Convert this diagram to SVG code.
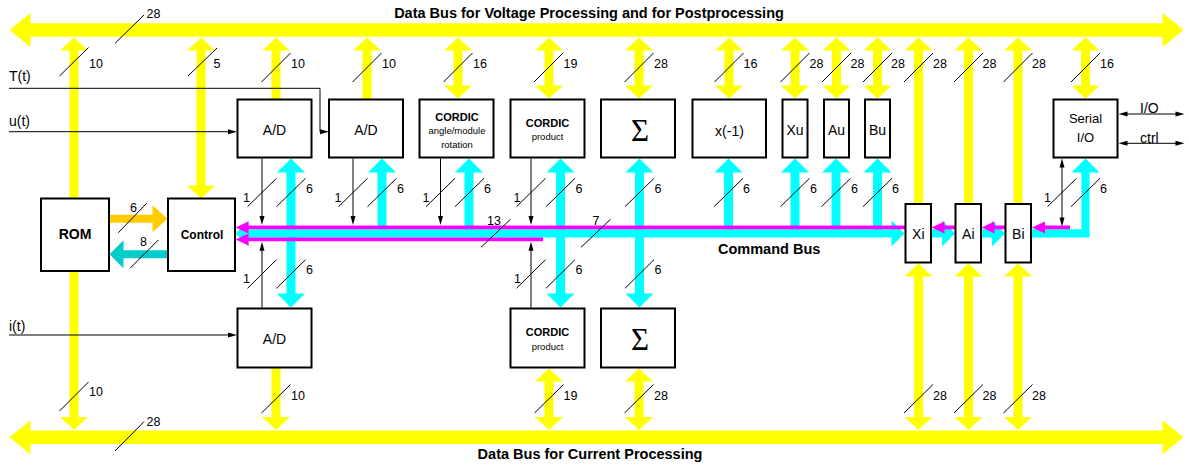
<svg xmlns="http://www.w3.org/2000/svg" width="1189" height="465" viewBox="0 0 1189 465">
<style>
text{font-family:"Liberation Sans",Arial,sans-serif;fill:#000}
text.sig{font-family:"Liberation Serif","Times New Roman",serif;font-size:31px;text-anchor:middle}
.n{font-size:12.5px}
.b{font-weight:bold;font-size:14.5px}
.lbl{font-size:14px;text-anchor:middle}
.ttl{font-weight:bold;font-size:11px;text-anchor:middle}
.sub{font-size:9.5px;text-anchor:middle}
.box{fill:#fff;stroke:#000;stroke-width:2}
.y{stroke:#ff0;stroke-width:9;fill:none}
.c{stroke:#0ff;stroke-width:9;fill:none}
.m{stroke:#f0f;stroke-width:3.8;fill:none}
.k{stroke:#000;stroke-width:1;fill:none}
.s{stroke:#000;stroke-width:1}
</style>
<defs>
<marker id="ybus" markerUnits="userSpaceOnUse" markerWidth="21" markerHeight="34" viewBox="0 0 21 34" refX="0.5" refY="17" orient="auto-start-reverse" overflow="visible"><path d="M0,0L21,17L0,34z" fill="#ff0"/></marker>
<marker id="yh" markerUnits="userSpaceOnUse" markerWidth="13" markerHeight="28" viewBox="0 0 13 28" refX="0.5" refY="14" orient="auto-start-reverse" overflow="visible"><path d="M0,0L13,14L0,28z" fill="#ff0"/></marker>
<marker id="ch" markerUnits="userSpaceOnUse" markerWidth="14" markerHeight="28" viewBox="0 0 14 28" refX="0.5" refY="14" orient="auto-start-reverse" overflow="visible"><path d="M0,0L14,14L0,28z" fill="#0ff"/></marker>
<marker id="cbh" markerUnits="userSpaceOnUse" markerWidth="13" markerHeight="26" viewBox="0 0 13 26" refX="0.5" refY="13" orient="auto-start-reverse" overflow="visible"><path d="M0,0L13,13L0,26z" fill="#0ff"/></marker>
<marker id="mh" markerUnits="userSpaceOnUse" markerWidth="13" markerHeight="12" viewBox="0 0 13 12" refX="0.5" refY="6" orient="auto-start-reverse" overflow="visible"><path d="M0,0L13,6L0,12z" fill="#f0f"/></marker>
<marker id="gh" markerUnits="userSpaceOnUse" markerWidth="15" markerHeight="27" viewBox="0 0 15 27" refX="0.5" refY="13.5" orient="auto" overflow="visible"><path d="M0,0L15,13.5L0,27z" fill="#fc0"/></marker>
<marker id="th" markerUnits="userSpaceOnUse" markerWidth="14" markerHeight="28" viewBox="0 0 14 28" refX="0.5" refY="14" orient="auto" overflow="visible"><path d="M0,0L14,14L0,28z" fill="#0cc"/></marker>
<marker id="bh" markerUnits="userSpaceOnUse" markerWidth="9" markerHeight="5" viewBox="0 0 9 5" refX="0.5" refY="2.5" orient="auto-start-reverse" overflow="visible"><path d="M0,0L9,2.5L0,5z" fill="#000"/></marker>
</defs>

<g id="connectors">
  <!-- data buses -->
  <line x1="30" y1="30" x2="1163" y2="30" stroke="#ff0" stroke-width="13.5" marker-start="url(#ybus)" marker-end="url(#ybus)"/>
  <line x1="30" y1="437.3" x2="1163" y2="437.3" stroke="#ff0" stroke-width="13.5" marker-start="url(#ybus)" marker-end="url(#ybus)"/>
  <!-- yellow verticals top -->
  <line class="y" x1="74" y1="198" x2="74" y2="50" marker-end="url(#yh)"/>
  <line class="y" x1="201" y1="50" x2="201" y2="186" marker-start="url(#yh)" marker-end="url(#yh)"/>
  <line class="y" x1="276" y1="99" x2="276" y2="50" marker-end="url(#yh)"/>
  <line class="y" x1="367" y1="99" x2="367" y2="50" marker-end="url(#yh)"/>
  <line class="y" x1="458" y1="50" x2="458" y2="86" marker-start="url(#yh)" marker-end="url(#yh)"/>
  <line class="y" x1="549" y1="50" x2="549" y2="86" marker-start="url(#yh)" marker-end="url(#yh)"/>
  <line class="y" x1="639" y1="50" x2="639" y2="86" marker-start="url(#yh)" marker-end="url(#yh)"/>
  <line class="y" x1="729" y1="50" x2="729" y2="86" marker-start="url(#yh)" marker-end="url(#yh)"/>
  <line class="y" x1="795" y1="50" x2="795" y2="86" marker-start="url(#yh)" marker-end="url(#yh)"/>
  <line class="y" x1="836.5" y1="50" x2="836.5" y2="86" marker-start="url(#yh)" marker-end="url(#yh)"/>
  <line class="y" x1="877.5" y1="50" x2="877.5" y2="86" marker-start="url(#yh)" marker-end="url(#yh)"/>
  <line class="y" x1="918.5" y1="204" x2="918.5" y2="50" marker-end="url(#yh)"/>
  <line class="y" x1="968.5" y1="204" x2="968.5" y2="50" marker-end="url(#yh)"/>
  <line class="y" x1="1018" y1="204" x2="1018" y2="50" marker-end="url(#yh)"/>
  <line class="y" x1="1085.5" y1="50" x2="1085.5" y2="86" marker-start="url(#yh)" marker-end="url(#yh)"/>
  <!-- yellow verticals bottom -->
  <line class="y" x1="74" y1="271" x2="74" y2="417.5" marker-end="url(#yh)"/>
  <line class="y" x1="276" y1="368" x2="276" y2="417.5" marker-end="url(#yh)"/>
  <line class="y" x1="549" y1="381" x2="549" y2="417.5" marker-start="url(#yh)" marker-end="url(#yh)"/>
  <line class="y" x1="639" y1="381" x2="639" y2="417.5" marker-start="url(#yh)" marker-end="url(#yh)"/>
  <line class="y" x1="918.5" y1="276" x2="918.5" y2="417.5" marker-start="url(#yh)" marker-end="url(#yh)"/>
  <line class="y" x1="968.5" y1="276" x2="968.5" y2="417.5" marker-start="url(#yh)" marker-end="url(#yh)"/>
  <line class="y" x1="1018" y1="276" x2="1018" y2="417.5" marker-start="url(#yh)" marker-end="url(#yh)"/>
  <!-- ROM / Control -->
  <line x1="109.5" y1="218.7" x2="153" y2="218.7" stroke="#fc0" stroke-width="8" marker-end="url(#gh)"/>
  <line x1="168" y1="254.3" x2="123" y2="254.3" stroke="#0cc" stroke-width="8" marker-end="url(#th)"/>
  <!-- cyan verticals -->
  <line class="c" x1="291" y1="172" x2="291" y2="294" marker-start="url(#ch)" marker-end="url(#ch)"/>
  <line class="c" x1="382" y1="230" x2="382" y2="172" marker-end="url(#ch)"/>
  <line class="c" x1="469" y1="230" x2="469" y2="172" marker-end="url(#ch)"/>
  <line class="c" x1="560.5" y1="172" x2="560.5" y2="294" marker-start="url(#ch)" marker-end="url(#ch)"/>
  <line class="c" x1="639.5" y1="172" x2="639.5" y2="294" marker-start="url(#ch)" marker-end="url(#ch)"/>
  <line class="c" x1="728.5" y1="230" x2="728.5" y2="172" marker-end="url(#ch)"/>
  <line class="c" x1="795" y1="230" x2="795" y2="172" marker-end="url(#ch)"/>
  <line class="c" x1="836" y1="230" x2="836" y2="172" marker-end="url(#ch)"/>
  <line class="c" x1="877.5" y1="230" x2="877.5" y2="172" marker-end="url(#ch)"/>
  <!-- command bus cyan -->
  <line x1="248" y1="233.4" x2="892" y2="233.4" stroke="#0ff" stroke-width="8.2" marker-start="url(#cbh)" marker-end="url(#cbh)"/>
  <line x1="931" y1="233.4" x2="942.5" y2="233.4" stroke="#0ff" stroke-width="8.2" marker-end="url(#cbh)"/>
  <line x1="981" y1="233.4" x2="992.5" y2="233.4" stroke="#0ff" stroke-width="8.2" marker-end="url(#cbh)"/>
  <path d="M1031,233.4H1085.5V172" stroke="#0ff" stroke-width="8.2" fill="none" stroke-linejoin="miter" marker-end="url(#ch)"/>
  <!-- command bus magenta -->
  <line class="m" x1="905.5" y1="227.4" x2="248" y2="227.4" marker-end="url(#mh)"/>
  <line class="m" x1="543" y1="239.4" x2="248" y2="239.4" marker-end="url(#mh)"/>
  <line class="m" x1="955.5" y1="227.4" x2="944" y2="227.4" marker-end="url(#mh)"/>
  <line class="m" x1="1005.5" y1="227.4" x2="994" y2="227.4" marker-end="url(#mh)"/>
  <line class="m" x1="1070" y1="227.4" x2="1044.5" y2="227.4" marker-end="url(#mh)"/>
  <!-- black single-bit lines -->
  <line class="k" x1="262" y1="158.5" x2="262" y2="216.5" marker-end="url(#bh)"/>
  <line class="k" x1="353" y1="158.5" x2="353" y2="216.5" marker-end="url(#bh)"/>
  <line class="k" x1="440.5" y1="158.5" x2="440.5" y2="216.5" marker-end="url(#bh)"/>
  <line class="k" x1="531" y1="158.5" x2="531" y2="216.5" marker-end="url(#bh)"/>
  <line class="k" x1="262" y1="308.5" x2="262" y2="250.3" marker-end="url(#bh)"/>
  <line class="k" x1="531" y1="308.5" x2="531" y2="250.3" marker-end="url(#bh)"/>
  <line class="k" x1="1062" y1="167" x2="1062" y2="218" marker-start="url(#bh)" marker-end="url(#bh)"/>
  <!-- inputs / outputs -->
  <path class="k" d="M9,88.3H320V131.7H320.5" marker-end="url(#bh)"/>
  <path class="k" d="M9,131.7H228.5" marker-end="url(#bh)"/>
  <path class="k" d="M9,335H228.5" marker-end="url(#bh)"/>
  <line class="k" x1="1127" y1="114" x2="1176" y2="114" marker-start="url(#bh)" marker-end="url(#bh)"/>
  <line class="k" x1="1127" y1="143.3" x2="1176" y2="143.3" marker-start="url(#bh)" marker-end="url(#bh)"/>
</g>

<g id="bus-labels">
  <text class="b" x="589" y="17.5" text-anchor="middle">Data Bus for Voltage Processing and for Postprocessing</text>
  <text class="b" x="590" y="459" text-anchor="middle">Data Bus for Current Processing</text>
  <text class="b" x="718" y="254">Command Bus</text>
  <text x="9" y="80.5" font-size="14">T(t)</text>
  <text x="9" y="125.5" font-size="14">u(t)</text>
  <text x="9" y="331" font-size="14">i(t)</text>
  <text x="1140" y="113" font-size="14">I/O</text>
  <text x="1140" y="142.5" font-size="14">ctrl</text>
</g>

<g id="width-marks">
  <g class="s">
    <line x1="115" y1="43.3" x2="144" y2="15"/>
    <line x1="115" y1="451" x2="144" y2="421.7"/>
    <line x1="59.5" y1="76" x2="88.5" y2="47.5"/>
    <line x1="188" y1="76" x2="217" y2="48"/>
    <line x1="261.5" y1="82" x2="290.5" y2="53"/>
    <line x1="352.5" y1="82" x2="381.5" y2="53"/>
    <line x1="443.5" y1="82" x2="472.5" y2="53"/>
    <line x1="534" y1="82" x2="563" y2="53"/>
    <line x1="624.5" y1="82" x2="653.5" y2="53"/>
    <line x1="714.5" y1="82" x2="743.5" y2="53"/>
    <line x1="780.5" y1="82" x2="809.5" y2="53"/>
    <line x1="822" y1="82" x2="851" y2="53"/>
    <line x1="863" y1="82" x2="892" y2="53"/>
    <line x1="904" y1="82" x2="933" y2="53"/>
    <line x1="954" y1="82" x2="983" y2="53"/>
    <line x1="1003.5" y1="82" x2="1032.5" y2="53"/>
    <line x1="1071" y1="82" x2="1100" y2="53"/>
    <line x1="247.5" y1="206.7" x2="276.5" y2="178.3"/>
    <line x1="276.5" y1="206.7" x2="305.5" y2="178.3"/>
    <line x1="338.5" y1="206.7" x2="367.5" y2="178.3"/>
    <line x1="367.5" y1="206.7" x2="396.5" y2="178.3"/>
    <line x1="426" y1="206.7" x2="455" y2="178.3"/>
    <line x1="455" y1="206.7" x2="484" y2="178.3"/>
    <line x1="516.5" y1="206.7" x2="545.5" y2="178.3"/>
    <line x1="546" y1="206.7" x2="575" y2="178.3"/>
    <line x1="625" y1="206.7" x2="654" y2="178.3"/>
    <line x1="714" y1="206.7" x2="743" y2="178.3"/>
    <line x1="780.5" y1="206.7" x2="809.5" y2="178.3"/>
    <line x1="821.5" y1="206.7" x2="850.5" y2="178.3"/>
    <line x1="863" y1="206.7" x2="892" y2="178.3"/>
    <line x1="1047.5" y1="206.7" x2="1076.5" y2="178.3"/>
    <line x1="1071" y1="206.7" x2="1100" y2="178.3"/>
    <line x1="247.5" y1="288.3" x2="276.5" y2="259.7"/>
    <line x1="276.5" y1="288.3" x2="305.5" y2="259.7"/>
    <line x1="516.5" y1="288.3" x2="545.5" y2="259.7"/>
    <line x1="546" y1="288.3" x2="575" y2="259.7"/>
    <line x1="625" y1="288.3" x2="654" y2="259.7"/>
    <line x1="59.5" y1="411" x2="88.5" y2="382"/>
    <line x1="261.5" y1="413" x2="290.5" y2="384.5"/>
    <line x1="534.5" y1="413" x2="563.5" y2="384.5"/>
    <line x1="624.5" y1="413" x2="653.5" y2="384.5"/>
    <line x1="904" y1="413" x2="933" y2="384.5"/>
    <line x1="954" y1="413" x2="983" y2="384.5"/>
    <line x1="1003.5" y1="413" x2="1032.5" y2="384.5"/>
    <line x1="481" y1="247.3" x2="510.5" y2="219.3"/>
    <line x1="581" y1="247.3" x2="610.5" y2="219.3"/>
    <line x1="118.3" y1="232.7" x2="146.7" y2="203.3"/>
    <line x1="130" y1="268.3" x2="158.3" y2="240"/>
  </g>
  <g class="n">
    <text x="146.5" y="18">28</text>
    <text x="146.5" y="426">28</text>
    <text x="89" y="68">10</text>
    <text x="213.5" y="68">5</text>
    <text x="291" y="68">10</text>
    <text x="382" y="68">10</text>
    <text x="473" y="68">16</text>
    <text x="563.5" y="68">19</text>
    <text x="654" y="68">28</text>
    <text x="743.5" y="68">16</text>
    <text x="809.5" y="68">28</text>
    <text x="850.5" y="68">28</text>
    <text x="891" y="68">28</text>
    <text x="933" y="68">28</text>
    <text x="982.5" y="68">28</text>
    <text x="1032" y="68">28</text>
    <text x="1100" y="68">16</text>
    <text x="243" y="202">1</text>
    <text x="306" y="193">6</text>
    <text x="334.5" y="202">1</text>
    <text x="397" y="193">6</text>
    <text x="422.5" y="202">1</text>
    <text x="484" y="193">6</text>
    <text x="513.5" y="202">1</text>
    <text x="575.5" y="193">6</text>
    <text x="654.5" y="193">6</text>
    <text x="743" y="193">6</text>
    <text x="810" y="193">6</text>
    <text x="851" y="193">6</text>
    <text x="892" y="193">6</text>
    <text x="1044" y="202">1</text>
    <text x="1100" y="193">6</text>
    <text x="243" y="283">1</text>
    <text x="306" y="274">6</text>
    <text x="514" y="283">1</text>
    <text x="575.5" y="274">6</text>
    <text x="654.5" y="274">6</text>
    <text x="89" y="396">10</text>
    <text x="291" y="400">10</text>
    <text x="563.5" y="400">19</text>
    <text x="654" y="400">28</text>
    <text x="933" y="400">28</text>
    <text x="982.5" y="400">28</text>
    <text x="1032" y="400">28</text>
    <text x="487" y="225">13</text>
    <text x="592.5" y="225">7</text>
    <text x="130" y="211.5">6</text>
    <text x="140" y="245.5">8</text>
  </g>
</g>

<g id="rom"><rect class="box" x="41" y="198.5" width="68" height="72.5"/><text x="75" y="238.5" font-size="14" font-weight="bold" text-anchor="middle">ROM</text></g>
<g id="control"><rect class="box" x="168" y="198.5" width="67" height="72.5"/><text x="202" y="239" font-size="12" font-weight="bold" text-anchor="middle">Control</text></g>
<g id="ad-u"><rect class="box" x="237.5" y="99.5" width="74" height="58"/><text class="lbl" x="274.5" y="135">A/D</text></g>
<g id="ad-t"><rect class="box" x="329" y="99.5" width="74" height="58"/><text class="lbl" x="366" y="135">A/D</text></g>
<g id="cordic-angle"><rect class="box" x="419.5" y="99.5" width="74" height="58"/><text class="ttl" x="457" y="120.5">CORDIC</text><text class="sub" x="457" y="133.5">angle/module</text><text class="sub" x="457" y="148">rotation</text></g>
<g id="cordic-product-u"><rect class="box" x="510.5" y="99.5" width="74" height="58"/><text class="ttl" x="547.5" y="126.5">CORDIC</text><text class="sub" x="547.5" y="140">product</text></g>
<g id="sum-u"><rect class="box" x="601" y="99.5" width="74" height="58"/><text class="sig" x="640" y="141">Σ</text></g>
<g id="negate"><rect class="box" x="692.5" y="99.5" width="73.5" height="58"/><text class="lbl" x="729.5" y="136">x(-1)</text></g>
<g id="xu"><rect class="box" x="782.5" y="99.5" width="25" height="58"/><text class="lbl" x="795" y="135">Xu</text></g>
<g id="au"><rect class="box" x="824" y="99.5" width="25" height="58"/><text class="lbl" x="836.5" y="135">Au</text></g>
<g id="bu"><rect class="box" x="865" y="99.5" width="25" height="58"/><text class="lbl" x="877.5" y="135">Bu</text></g>
<g id="serial-io"><rect class="box" x="1053.5" y="99.5" width="64" height="58"/><text x="1085.5" y="123" font-size="13" text-anchor="middle">Serial</text><text x="1085.5" y="141.5" font-size="13" text-anchor="middle">I/O</text></g>
<g id="xi"><rect class="box" x="905.5" y="204" width="25.5" height="58.5"/><text class="lbl" x="918.3" y="238.5">Xi</text></g>
<g id="ai"><rect class="box" x="955.5" y="204" width="25.5" height="58.5"/><text class="lbl" x="968.3" y="238.5">Ai</text></g>
<g id="bi"><rect class="box" x="1005.5" y="204" width="25.5" height="58.5"/><text class="lbl" x="1018.3" y="238.5">Bi</text></g>
<g id="ad-i"><rect class="box" x="237.5" y="308.5" width="74" height="59"/><text class="lbl" x="274.5" y="344">A/D</text></g>
<g id="cordic-product-i"><rect class="box" x="510.5" y="308.5" width="74" height="59"/><text class="ttl" x="547.5" y="335.5">CORDIC</text><text class="sub" x="547.5" y="350">product</text></g>
<g id="sum-i"><rect class="box" x="601" y="308.5" width="74" height="59"/><text class="sig" x="640" y="350">Σ</text></g>
</svg>
